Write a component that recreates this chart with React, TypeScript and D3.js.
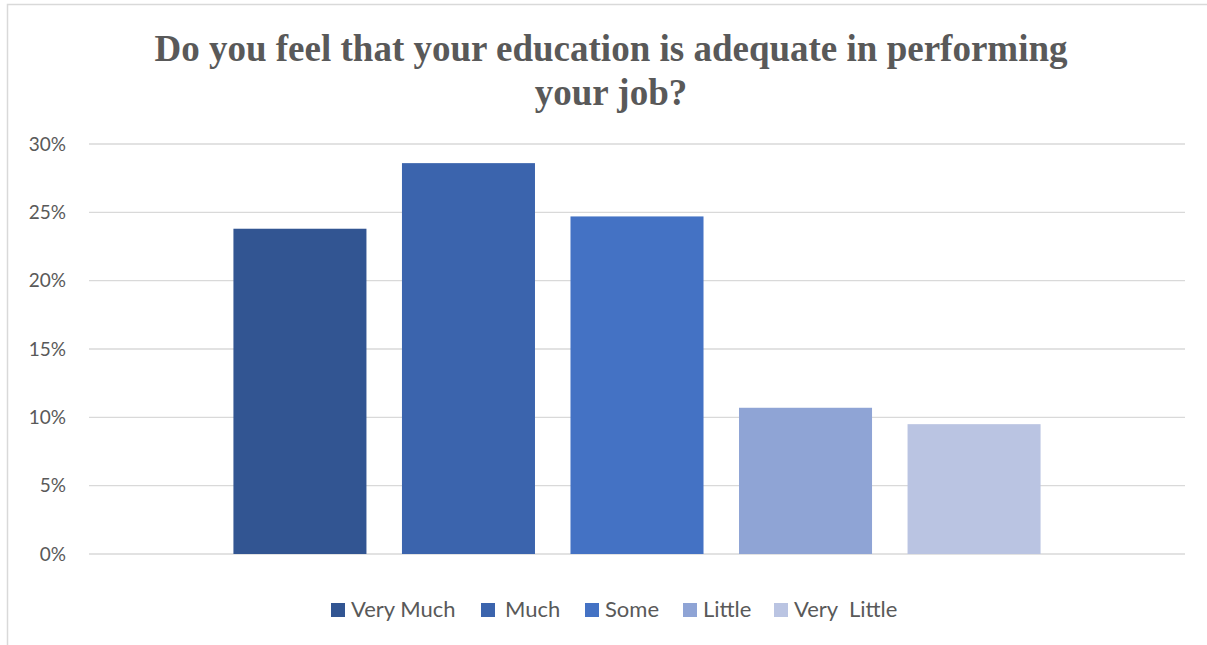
import React from "react";
import * as d3 from "d3";

const title = ["Do you feel that your education is adequate in performing", "your job?"];
const series = ["Very Much", "Much", "Some", "Little", "Very  Little"];
const values = [0.238, 0.286, 0.247, 0.107, 0.095];
const colors = ["#325592", "#3B64AD", "#4472C4", "#8FA4D5", "#BAC4E2"];
const yTicks = [0, 0.05, 0.1, 0.15, 0.2, 0.25, 0.3];
const legendX = [331, 481, 585, 683, 774];

const W = 1207;
const H = 645;
const plot = { left: 89, right: 1185, top: 144, bottom: 554 };

export default function App() {
  const y = d3.scaleLinear().domain([0, 0.3]).range([plot.bottom, plot.top]);
  const x = d3
    .scaleBand<string>()
    .domain(series)
    .range([plot.left, plot.right])
    .paddingInner(0.2107)
    .paddingOuter(0.857);
  const fmt = d3.format(".0%");
  const font = "Lato, 'Open Sans', sans-serif";

  return (
    <svg
      width={W}
      height={H}
      style={{ position: "absolute", left: 0, top: 0, background: "#fff" }}
    >
      <rect x={7.5} y={4.5} width={W + 10} height={H + 10} fill="#fff" stroke="#d9d9d9" strokeWidth={1.5} />
      <text
        x={611}
        textAnchor="middle"
        fontFamily="'Liberation Serif', 'Times New Roman', serif"
        fontWeight="bold"
        fontSize={37}
        fill="#595959"
      >
        {title.map((t, i) => (
          <tspan key={i} x={611} y={61 + i * 44}>
            {t}
          </tspan>
        ))}
      </text>
      {yTicks.map((t) => (
        <g key={t}>
          <line
            x1={plot.left}
            x2={plot.right}
            y1={y(t)}
            y2={y(t)}
            stroke="#d9d9d9"
            strokeWidth={1.3}
          />
          <text
            x={66}
            y={y(t)}
            dy="0.35em"
            textAnchor="end"
            fontFamily={font}
            fontSize={19}
            fill="#595959"
          >
            {fmt(t)}
          </text>
        </g>
      ))}
      {series.map((s, i) => (
        <rect
          key={s}
          x={x(s)}
          width={x.bandwidth()}
          y={y(values[i])}
          height={y(0) - y(values[i])}
          fill={colors[i]}
        />
      ))}
      {series.map((s, i) => (
        <g key={s}>
          <rect x={legendX[i]} y={603} width={14} height={14} fill={colors[i]} />
          <text
            x={legendX[i] + (i === 1 ? 24 : 20)}
            y={617}
            fontFamily={font}
            fontSize={22}
            fill="#595959"
            style={{ whiteSpace: "pre" }}
          >
            {s}
          </text>
        </g>
      ))}
    </svg>
  );
}
